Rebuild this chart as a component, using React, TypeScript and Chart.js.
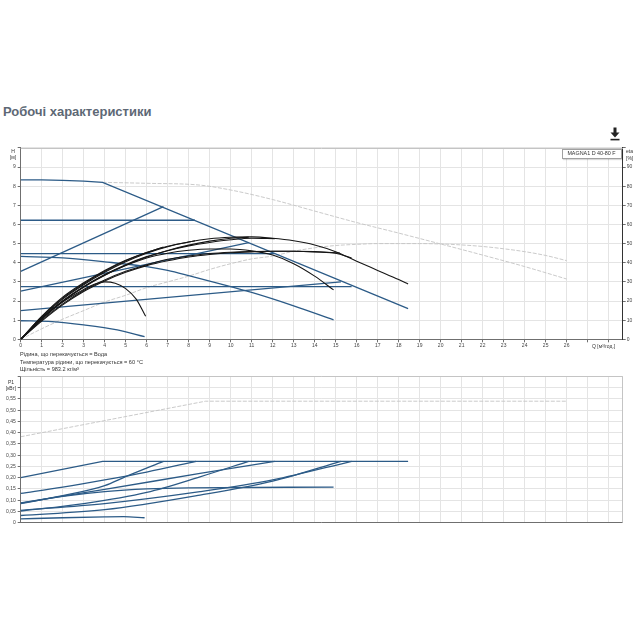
import React, { useEffect, useRef } from 'react';
import { Chart, registerables } from 'chart.js';
Chart.register(...registerables);

const FONT = 'Arial, "Liberation Sans", sans-serif';

// ---------- axis ticks ----------
const X_MAX = 28.67;
const xTickVals = [0, 1, 2, 3, 4, 5, 6, 7, 8, 9, 10, 11, 12, 13, 14, 15, 16, 17, 18, 19, 20, 21, 22, 23, 24, 25, 26, 27, 28];
const hTickVals = [0, 1, 2, 3, 4, 5, 6, 7, 8, 9, 10];
const etaTickVals = [0, 10, 20, 30, 40, 50, 60, 70, 80, 90, 100];
const pTickVals = [0, 0.05, 0.1, 0.15, 0.2, 0.25, 0.3, 0.35, 0.4, 0.45, 0.5, 0.55, 0.6, 0.65];

// ---------- H (head) curves, m ----------
const maxQ = [0, 1, 2, 3, 3.9, 18.45];
const maxH = [8.33, 8.33, 8.3, 8.26, 8.2, 1.6];
const cp1Q = [0, 8.3];
const cp1H = [6.22, 6.22];
const pp1Q = [0, 6.8];
const pp1H = [3.55, 6.93];
const cp2Q = [0, 12.1];
const cp2H = [4.48, 4.48];
const pp2Q = [0, 10.86];
const pp2H = [2.52, 5.05];
const cp3Q = [0, 15.76];
const cp3H = [2.75, 2.75];
const pp3Q = [0, 15.25];
const pp3H = [1.5, 3.0];
const spd2Q = [0, 2, 4, 6, 7, 8, 9.5, 11, 13, 14.9];
const spd2H = [4.33, 4.25, 4.05, 3.8, 3.6, 3.33, 2.9, 2.45, 1.75, 1.02];
const spd1Q = [0, 1.5, 3, 4.6, 5.9];
const spd1H = [0.97, 0.92, 0.75, 0.49, 0.14];
const greyHQ = [3.9, 6, 8.5, 10, 12, 14, 16, 18, 20, 22, 24, 26];
const greyHV = [8.2, 8.15, 8.06, 7.8, 7.3, 6.7, 6.1, 5.55, 4.98, 4.4, 3.8, 3.15];

// ---------- efficiency curves, % ----------
const etaMaxQ = [0, 1, 2, 3, 4, 5, 6, 7, 8, 9, 10, 11, 12, 13, 14, 15, 16, 17, 18, 18.45];
const etaMaxV = [0, 11.5, 21, 28.5, 35, 40.5, 45, 48.4, 50.8, 52.5, 53.3, 53.5, 52.8, 51.5, 49.3, 45.8, 40.8, 36, 31.2, 28.9];
const etaCp1Q = [0, 1, 2, 3, 4, 5, 6, 7, 8, 8.3];
const etaCp1V = [0, 11.8, 21.5, 29, 35.5, 41, 45.3, 48.6, 50.8, 51.5];
const etaPp1Q = [0, 1, 2, 3, 4, 5, 6, 6.8];
const etaPp1V = [0, 12, 22, 29.5, 36, 41.3, 45.3, 48.2];
const etaCp2Q = [0, 1, 2, 3, 4, 5, 6, 7, 8, 9, 10, 11, 12.1];
const etaCp2V = [0, 11, 20, 27.5, 33.8, 39, 43.2, 46.3, 48.8, 50.6, 52, 52.8, 52.6];
const etaPp2Q = [0, 1, 2, 3, 4, 5, 6, 7, 8, 9, 10, 10.86];
const etaPp2V = [0, 10.8, 19.8, 27.2, 33.5, 38.7, 43, 46.4, 49.2, 51.3, 52.8, 53.4];
const etaCp3Q = [0, 1, 2, 3, 4, 5, 6, 7, 8, 9, 10, 11, 12, 13, 14, 15, 15.76];
const etaCp3V = [0, 10, 18.5, 25.5, 31, 35.5, 39, 41.8, 43.5, 44.8, 45.5, 45.9, 46, 46, 45.7, 45, 42.5];
const etaPp3Q = [0, 1, 2, 3, 4, 5, 6, 7, 8, 9, 10, 11, 12, 13, 14, 15.2];
const etaPp3V = [0, 9.5, 18, 25, 30.5, 35, 38.5, 41, 43, 44.3, 45.2, 45.7, 46, 46, 45.8, 45];
const etaS2Q = [0, 1, 2, 3, 4, 5, 6, 7, 8, 9, 10, 11, 12, 13, 14, 14.9];
const etaS2V = [0, 11, 20, 27.5, 33.5, 38.5, 42.5, 45, 46.5, 47.2, 47.2, 46.2, 44, 39.5, 33, 25.8];
const etaS1Q = [0, 1, 2, 3, 3.5, 4, 4.5, 5, 5.5, 5.95];
const etaS1V = [0, 10.5, 19.5, 26, 28.8, 30, 29.3, 26.5, 21, 12];
const greyEtaQ = [0, 1, 2, 3, 4, 5, 6, 7, 8, 9, 10, 11, 12, 13, 14, 15, 16, 17, 18, 19, 20, 21, 22, 23, 24, 25, 26];
const greyEtaV = [0, 5.5, 10.5, 15, 19.5, 23, 27, 30, 33, 36.5, 39.5, 42, 43.5, 46, 47.8, 49, 49.6, 50, 50, 50, 49.8, 49.3, 48.5, 47.3, 45.8, 43.8, 41.1];

// ---------- P1 power curves, kW ----------
const pMaxQ = [0, 3.9, 18.45];
const pMaxV = [0.2, 0.273, 0.273];
const pCp1Q = [0, 2, 4, 6, 8.35];
const pCp1V = [0.13, 0.158, 0.19, 0.225, 0.273];
const pPp1Q = [0, 2, 4, 5, 6.8];
const pPp1V = [0.085, 0.12, 0.165, 0.205, 0.273];
const pCp2Q = [0, 4, 8.54, 12.1];
const pCp2V = [0.088, 0.148, 0.219, 0.273];
const pPp2Q = [0, 3, 6, 8.54, 10.86];
const pPp2V = [0.052, 0.085, 0.135, 0.204, 0.273];
const pCp3Q = [0, 4, 8.54, 12, 15.76];
const pCp3V = [0.055, 0.085, 0.138, 0.19, 0.273];
const pPp3Q = [0, 4, 8.54, 12, 15.25];
const pPp3V = [0.032, 0.058, 0.123, 0.185, 0.273];
const pS2Q = [0, 2, 4, 6, 8, 14.9];
const pS2V = [0.087, 0.117, 0.138, 0.15, 0.155, 0.158];
const pS1Q = [0, 2, 4, 4.9, 5.9];
const pS1V = [0.017, 0.022, 0.026, 0.027, 0.022];
const greyPQ = [0, 8.8, 26];
const greyPV = [0.382, 0.54, 0.54];

// ---------- texts ----------
const TITLE = 'Робочі характеристики';
const LEGEND = 'MAGNA1 D 40-80 F';
const NOTES = [
  'Рідина, що перекачується = Вода',
  'Температура рідини, що перекачується = 60 °C',
  'Щільність = 983.2 кг/м³',
];

const BLUE = '#2c5b87';
const BLACK = '#161616';
const GREY = '#c4c4c4';
const GRID = '#e4e4e4';
const AXIS = '#6f6f6f';
const TICK_TXT = '#444';

function xy(q: number[], v: number[]) {
  return q.map((x, i) => ({ x, y: v[i] }));
}

function ds(q: number[], v: number[], kind: 'blue' | 'black' | 'grey', axis: string, smooth = true) {
  const color = kind === 'blue' ? BLUE : kind === 'black' ? BLACK : GREY;
  return {
    data: xy(q, v),
    yAxisID: axis,
    borderColor: color,
    borderWidth: kind === 'grey' ? 0.9 : kind === 'blue' ? 1.3 : 1.1,
    borderDash: kind === 'grey' ? [4, 1.5] : [],
    pointRadius: 0,
    fill: false,
    cubicInterpolationMode: smooth ? 'monotone' : 'default',
    tension: 0,
    order: kind === 'black' ? 1 : kind === 'blue' ? 2 : 3,
  };
}

function framePlugin(top: boolean, right: boolean, color: string) {
  return {
    id: 'frame' + (top ? 't' : '') + (right ? 'r' : ''),
    beforeDatasetsDraw(chart: any) {
      const { ctx, chartArea: a } = chart;
      ctx.save();
      ctx.strokeStyle = color;
      ctx.lineWidth = 1;
      ctx.beginPath();
      if (top) {
        const y = Math.round(a.top) + 0.5;
        ctx.moveTo(a.left, y);
        ctx.lineTo(a.right, y);
      }
      if (right) {
        const x = Math.round(a.right) - 0.5;
        ctx.moveTo(x, a.top);
        ctx.lineTo(x, a.bottom);
      }
      ctx.stroke();
      ctx.restore();
    },
  };
}

const tickFont = { family: FONT, size: 5 };

function fixedTicks(vals: number[]) {
  return (scale: any) => {
    scale.ticks = vals.map((v) => ({ value: v }));
  };
}

function TopChart() {
  const ref = useRef<HTMLCanvasElement>(null);
  useEffect(() => {
    const chart = new Chart(ref.current as HTMLCanvasElement, {
      type: 'line',
      data: {
        datasets: [
          ds(etaMaxQ, etaMaxV, 'black', 'y2'),
          ds(etaCp1Q, etaCp1V, 'black', 'y2'),
          ds(etaPp1Q, etaPp1V, 'black', 'y2'),
          ds(etaCp2Q, etaCp2V, 'black', 'y2'),
          ds(etaPp2Q, etaPp2V, 'black', 'y2'),
          ds(etaCp3Q, etaCp3V, 'black', 'y2'),
          ds(etaPp3Q, etaPp3V, 'black', 'y2'),
          ds(etaS2Q, etaS2V, 'black', 'y2'),
          ds(etaS1Q, etaS1V, 'black', 'y2'),
          ds(maxQ, maxH, 'blue', 'y', false),
          ds(cp1Q, cp1H, 'blue', 'y', false),
          ds(pp1Q, pp1H, 'blue', 'y', false),
          ds(cp2Q, cp2H, 'blue', 'y', false),
          ds(pp2Q, pp2H, 'blue', 'y', false),
          ds(cp3Q, cp3H, 'blue', 'y', false),
          ds(pp3Q, pp3H, 'blue', 'y', false),
          ds(spd2Q, spd2H, 'blue', 'y'),
          ds(spd1Q, spd1H, 'blue', 'y'),
          ds(greyHQ, greyHV, 'grey', 'y'),
          ds(greyEtaQ, greyEtaV, 'grey', 'y2'),
        ] as any,
      },
      options: {
        animation: false,
        responsive: false,
        events: [],
        layout: { padding: { top: 7.9, left: 0, right: 0, bottom: 0 } },
        plugins: { legend: { display: false }, tooltip: { enabled: false } },
        scales: {
          x: {
            type: 'linear',
            min: 0,
            max: X_MAX,
            afterBuildTicks: fixedTicks(xTickVals),
            afterFit: (s: any) => { s.height = 15.7; },
            ticks: {
              font: tickFont, color: TICK_TXT, padding: 0, maxRotation: 0, autoSkip: false,
              callback: (v: any) => (v <= 26 ? String(v) : ''),
            },
            grid: { color: GRID, tickColor: AXIS, tickLength: 3 },
            border: { display: true, color: AXIS, width: 1 },
          },
          y: {
            position: 'left',
            min: 0,
            max: 10,
            afterBuildTicks: fixedTicks(hTickVals),
            afterFit: (s: any) => { s.width = 20.7; },
            ticks: {
              font: tickFont, color: TICK_TXT, padding: 2,
              callback: (v: any) => (v < 10 ? String(v) : ''),
            },
            grid: { color: GRID, tickColor: AXIS, tickLength: 3 },
            border: { display: true, color: AXIS, width: 1 },
          },
          y2: {
            position: 'right',
            min: 0,
            max: 100,
            afterBuildTicks: fixedTicks(etaTickVals),
            afterFit: (s: any) => { s.width = 17.3; },
            ticks: {
              font: tickFont, color: TICK_TXT, padding: 1,
              callback: (v: any) => (v < 100 ? String(v) : ''),
            },
            grid: { drawOnChartArea: false, tickColor: AXIS, tickLength: 3 },
            border: { display: true, color: '#333', width: 1 },
          },
        },
      } as any,
      plugins: [framePlugin(true, false, '#c4c4c4')],
    });
    return () => chart.destroy();
  }, []);
  return (
    <canvas
      ref={ref}
      width={640}
      height={215}
      style={{ position: 'absolute', left: 0, top: 140, width: 640, height: 215 }}
    />
  );
}

function BottomChart() {
  const ref = useRef<HTMLCanvasElement>(null);
  useEffect(() => {
    const chart = new Chart(ref.current as HTMLCanvasElement, {
      type: 'line',
      data: {
        datasets: [
          ds(pMaxQ, pMaxV, 'blue', 'y', false),
          ds(pCp1Q, pCp1V, 'blue', 'y'),
          ds(pPp1Q, pPp1V, 'blue', 'y'),
          ds(pCp2Q, pCp2V, 'blue', 'y'),
          ds(pPp2Q, pPp2V, 'blue', 'y'),
          ds(pCp3Q, pCp3V, 'blue', 'y'),
          ds(pPp3Q, pPp3V, 'blue', 'y'),
          ds(pS2Q, pS2V, 'blue', 'y'),
          ds(pS1Q, pS1V, 'blue', 'y'),
          ds(greyPQ, greyPV, 'grey', 'y', false),
        ] as any,
      },
      options: {
        animation: false,
        responsive: false,
        events: [],
        layout: { padding: { top: 6.45, left: 0, right: 17.3, bottom: 0 } },
        plugins: { legend: { display: false }, tooltip: { enabled: false } },
        scales: {
          x: {
            type: 'linear',
            min: 0,
            max: X_MAX,
            afterBuildTicks: fixedTicks(xTickVals),
            afterFit: (s: any) => { s.height = 7.3; },
            ticks: { display: false },
            grid: { color: GRID, drawTicks: false },
            border: { display: true, color: AXIS, width: 1 },
          },
          y: {
            position: 'left',
            min: 0,
            max: 0.65,
            afterBuildTicks: fixedTicks(pTickVals),
            afterFit: (s: any) => { s.width = 20.7; },
            ticks: {
              font: tickFont, color: TICK_TXT, padding: 2,
              callback: (v: any) => (v > 0.575 ? '' : v === 0 ? '0' : Number(v).toFixed(2).replace('.', ',')),
            },
            grid: { color: GRID, tickColor: AXIS, tickLength: 3 },
            border: { display: true, color: AXIS, width: 1 },
          },
        },
      } as any,
      plugins: [framePlugin(true, true, '#c4c4c4')],
    });
    return () => chart.destroy();
  }, []);
  return (
    <canvas
      ref={ref}
      width={640}
      height={160}
      style={{ position: 'absolute', left: 0, top: 370, width: 640, height: 160 }}
    />
  );
}

function Txt(props: { x: number; y: number; size: number; text: string; bold?: boolean; color?: string; center?: boolean }) {
  const { x, y, size, text, bold, color, center } = props;
  return (
    <div
      style={{
        position: 'absolute',
        left: x,
        top: y,
        transform: center ? 'translate(-50%, -50%)' : 'translateY(-50%)',
        fontFamily: FONT,
        fontSize: size,
        fontWeight: bold ? 700 : 400,
        color: color || '#333',
        whiteSpace: 'nowrap',
        lineHeight: 1,
      }}
    >
      {text}
    </div>
  );
}

export default function App() {
  return (
    <div style={{ position: 'absolute', left: 0, top: 0, width: 640, height: 640, background: '#fff', overflow: 'hidden' }}>
      <Txt x={3} y={111} size={13} bold color="#5d6875" text={TITLE} />
      <svg style={{ position: 'absolute', left: 609, top: 127 }} width={12} height={14} viewBox="0 0 12 14">
        <rect x={4.5} y={0.5} width={3} height={5.5} fill="#222" />
        <polygon points="1.5,5.5 10.5,5.5 6,10.5" fill="#222" />
        <rect x={1.5} y={11.8} width={9} height={1.6} fill="#222" />
      </svg>
      <TopChart />
      <BottomChart />
      <Txt x={13} y={151} size={5} center text="H" />
      <Txt x={13} y={157} size={5} center text="[м]" />
      <Txt x={626} y={151} size={5} text="eta" />
      <Txt x={626} y={157.5} size={5} text="[%]" />
      <Txt x={592} y={345.5} size={5} text="Q [м³/год.]" />
      <div
        style={{
          position: 'absolute', left: 561.5, top: 149, width: 60, height: 10,
          background: '#fff', border: '1px solid #a0a0a0', boxSizing: 'border-box',
          boxShadow: '1px 1px 1px rgba(0,0,0,0.15)',
        }}
      />
      <Txt x={591.5} y={154} size={5.4} center color="#333" text={LEGEND} />
      <Txt x={20} y={355} size={5.6} text={NOTES[0]} />
      <Txt x={20} y={362.5} size={5.6} text={NOTES[1]} />
      <Txt x={20} y={369.7} size={5.6} text={NOTES[2]} />
      <Txt x={11} y={382} size={5} center text="P1" />
      <Txt x={11} y={387.5} size={5} center text="[кВт]" />
    </div>
  );
}
